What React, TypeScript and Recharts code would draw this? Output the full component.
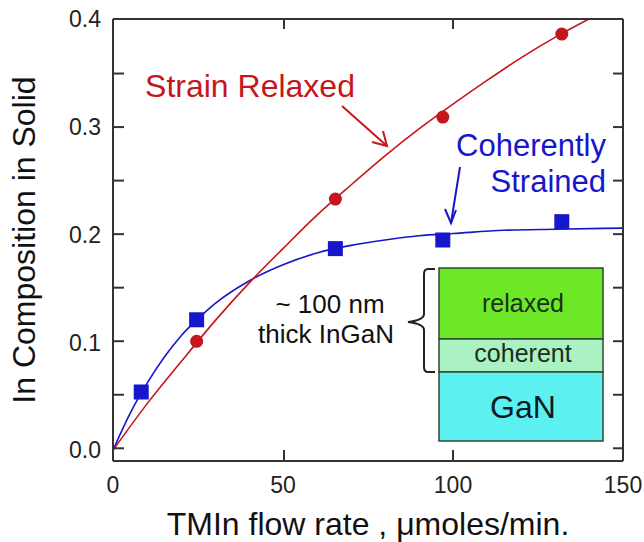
import React from 'react';
import {
  ComposedChart,
  Line,
  Scatter,
  XAxis,
  YAxis,
} from 'recharts';

// measured points
const relaxedX = [24.6, 65.4, 97, 132];
const relaxedY = [0.101, 0.233, 0.309, 0.386];
const strainedX = [8.3, 24.6, 65.4, 97, 132];
const strainedY = [0.054, 0.121, 0.187, 0.195, 0.212];

// fitted curves
const relaxedFitX = [0, 10, 20, 30, 40, 50, 60, 70, 80, 90, 100, 110, 120, 130, 140, 145];
const relaxedFitY = [0, 0.043, 0.082, 0.12, 0.155, 0.187, 0.218, 0.246, 0.273, 0.298, 0.321, 0.343, 0.364, 0.383, 0.4, 0.408];
const strainedFitX = [0, 5, 10, 15, 20, 25, 30, 40, 50, 60, 70, 80, 90, 100, 115, 130, 150];
const strainedFitY = [0, 0.034, 0.062, 0.086, 0.106, 0.122, 0.136, 0.157, 0.172, 0.183, 0.19, 0.195, 0.199, 0.201, 0.204, 0.205, 0.206];

const xTicks = [0, 50, 100, 150];
const yTicks = [0, 0.05, 0.1, 0.15, 0.2, 0.25, 0.3, 0.35, 0.4];
const xDomain = [0, 150];
const yDomain = [-0.01, 0.4];

const RED = '#c4161c';
const BLUE = '#1616cc';
const AXIS = '#333';
const FONT = '"Liberation Sans", Arial, sans-serif';

// layout
const W = 644;
const H = 542;
const MARGIN = { top: 19, right: 21, left: 0, bottom: 0 };
const Y_AXIS_W = 114;
const X_AXIS_H = 82;
const FRAME_L = MARGIN.left + Y_AXIS_W;
const FRAME_R = W - MARGIN.right;
const FRAME_T = MARGIN.top;
const FRAME_B = H - MARGIN.bottom - X_AXIS_H;
const PLOT_L = FRAME_L + 1;
const PLOT_R = FRAME_R - 1;
const PLOT_T = FRAME_T + 1;
const PLOT_B = FRAME_B - 1;
const TICK = 10;

const zip = (xs: number[], ys: number[]) => xs.map((x, i) => ({ x, y: ys[i] }));

const relaxedPts = zip(relaxedX, relaxedY);
const strainedPts = zip(strainedX, strainedY);
const relaxedFit = zip(relaxedFitX, relaxedFitY);
const strainedFit = zip(strainedFitX, strainedFitY);

const isMajor = (v: number) => Math.abs(v * 10 - Math.round(v * 10)) < 1e-6;

const Circle = (p: any) => <circle cx={p.cx} cy={p.cy} r={6.5} fill={RED} />;
const Square = (p: any) => (
  <rect x={p.cx - 7.5} y={p.cy - 7.5} width={15} height={15} fill={BLUE} />
);

const YTick = (p: any) => {
  const v = p.payload.value;
  if (!isMajor(v)) return <g />;
  return (
    <text x={p.x} y={p.y} dy="0.36em" textAnchor="end" fontFamily={FONT} fontSize={23} fill="#222">
      {v.toFixed(1)}
    </text>
  );
};

const XTick = (p: any) => (
  <text x={p.x} y={p.y} dy="0.71em" textAnchor="middle" fontFamily={FONT} fontSize={23} fill="#222">
    {p.payload.value}
  </text>
);

const YTitle = (p: any) => {
  const { y, height } = p.viewBox;
  const cy = y + height / 2;
  return (
    <text
      transform={`translate(35, ${cy}) rotate(-90)`}
      textAnchor="middle"
      fontFamily={FONT}
      fontSize={32}
      fill="#111"
    >
      In Composition in Solid
    </text>
  );
};

const XTitle = (p: any) => {
  const { x, y, width } = p.viewBox;
  return (
    <text
      x={x + width / 2}
      y={y + 74}
      textAnchor="middle"
      fontFamily={FONT}
      fontSize={32}
      fill="#111"
    >
      TMIn flow rate , μmoles/min.
    </text>
  );
};

// inward tick marks on all four sides of the frame
const tx = (v: number) => PLOT_L + ((v - xDomain[0]) / (xDomain[1] - xDomain[0])) * (PLOT_R - PLOT_L);
const ty = (v: number) => PLOT_T + ((yDomain[1] - v) / (yDomain[1] - yDomain[0])) * (PLOT_B - PLOT_T);

function FrameTicks() {
  const s = { stroke: AXIS, strokeWidth: 2 };
  return (
    <g>
      {yTicks
        .filter((v) => v < yDomain[1])
        .map((v) => (
          <g key={`y${v}`}>
            <line x1={FRAME_L} y1={ty(v)} x2={FRAME_L + TICK} y2={ty(v)} {...s} />
            <line x1={FRAME_R} y1={ty(v)} x2={FRAME_R - TICK} y2={ty(v)} {...s} />
          </g>
        ))}
      {xTicks
        .filter((v) => v > xDomain[0] && v < xDomain[1])
        .map((v) => (
          <g key={`x${v}`}>
            <line x1={tx(v)} y1={FRAME_B} x2={tx(v)} y2={FRAME_B - TICK} {...s} />
            <line x1={tx(v)} y1={FRAME_T} x2={tx(v)} y2={FRAME_T + TICK} {...s} />
          </g>
        ))}
    </g>
  );
}

function Annotations() {
  const txt = { fontFamily: FONT };
  return (
    <svg
      width={W}
      height={H}
      style={{ position: 'absolute', left: 0, top: 0, pointerEvents: 'none' }}
    >
      <FrameTicks />

      <text x={250} y={97} textAnchor="middle" fontSize={32} fill={RED} {...txt}>
        Strain Relaxed
      </text>
      <line x1={342} y1={106} x2={387} y2={146} stroke={RED} strokeWidth={2} />
      <polyline points="372,142 387,146 383,131" fill="none" stroke={RED} strokeWidth={2} />

      <text x={606} y={156} textAnchor="end" fontSize={31} fill={BLUE} {...txt}>
        Coherently
      </text>
      <text x={606} y={192} textAnchor="end" fontSize={31} fill={BLUE} {...txt}>
        Strained
      </text>
      <line x1={460} y1={167} x2={451} y2={223} stroke={BLUE} strokeWidth={2} />
      <polyline points="445,209 451,223 456,210" fill="none" stroke={BLUE} strokeWidth={2} />

      <text x={330} y={313} textAnchor="middle" fontSize={26} fill="#111" {...txt}>
        ~ 100 nm
      </text>
      <text x={326} y={343} textAnchor="middle" fontSize={26} fill="#111" {...txt}>
        thick InGaN
      </text>
      <path
        d="M435,269 L428,269 Q424,269 424,274 L424,314 Q424,320 408,322 Q424,324 424,330 L424,367 Q424,372 428,372 L435,372"
        fill="none"
        stroke="#222"
        strokeWidth={2}
      />

      <rect x={439} y={268} width={164} height={71} fill="#6ce826" stroke="#2c4a30" strokeWidth={1.5} />
      <rect x={439} y={339} width={164} height={33} fill="#aaf2c2" stroke="#2c4a30" strokeWidth={1.5} />
      <rect x={439} y={372} width={164} height={69} fill="#5cf0f0" stroke="#2c4a30" strokeWidth={1.5} />
      <text x={523} y={312} textAnchor="middle" fontSize={25} fill="#1c2e1c" {...txt}>
        relaxed
      </text>
      <text x={523} y={362} textAnchor="middle" fontSize={25} fill="#1c2e1c" {...txt}>
        coherent
      </text>
      <text x={523} y={418} textAnchor="middle" fontSize={32} fill="#0e1a22" {...txt}>
        GaN
      </text>
    </svg>
  );
}

export default function App() {
  const axisLine = { stroke: AXIS, strokeWidth: 2 };
  const frame = {
    type: 'number' as const,
    allowDataOverflow: true,
    mirror: true,
    axisLine,
    tickLine: false,
    tick: false,
  };
  return (
    <div style={{ position: 'absolute', left: 0, top: 0, width: W, height: H, background: '#fff' }}>
      <ComposedChart width={W} height={H} margin={MARGIN}>
        {/* frame lines */}
        <XAxis xAxisId="bt" dataKey="x" domain={xDomain} ticks={xTicks} height={1} {...frame} />
        <XAxis xAxisId="top" dataKey="x" orientation="top" domain={xDomain} ticks={xTicks} height={1} {...frame} />
        <YAxis yAxisId="lt" dataKey="y" domain={yDomain} ticks={yTicks} width={1} {...frame} />
        <YAxis yAxisId="right" dataKey="y" orientation="right" domain={yDomain} ticks={yTicks} width={1} {...frame} />
        {/* labelled axes */}
        <XAxis
          dataKey="x"
          type="number"
          domain={xDomain}
          allowDataOverflow
          ticks={xTicks}
          height={X_AXIS_H - 1}
          axisLine={false}
          tickLine={false}
          tickSize={0}
          tickMargin={16}
          tick={(p: any) => <XTick {...p} />}
          interval={0}
          label={<XTitle />}
        />
        <YAxis
          dataKey="y"
          type="number"
          domain={yDomain}
          allowDataOverflow
          ticks={yTicks}
          width={Y_AXIS_W - 1}
          axisLine={false}
          tickLine={false}
          tickSize={0}
          tickMargin={12}
          tick={(p: any) => <YTick {...p} />}
          interval={0}
          label={<YTitle />}
        />
        <Line
          data={strainedFit}
          dataKey="y"
          type="monotone"
          stroke={BLUE}
          strokeWidth={1.6}
          dot={false}
          isAnimationActive={false}
        />
        <Line
          data={relaxedFit}
          dataKey="y"
          xAxisId="top"
          yAxisId="right"
          type="monotone"
          stroke={RED}
          strokeWidth={1.6}
          dot={false}
          isAnimationActive={false}
        />
        <Scatter
          data={relaxedPts}
          dataKey="y"
          xAxisId="bt"
          yAxisId="lt"
          shape={Circle}
          isAnimationActive={false}
        />
        <Scatter data={strainedPts} dataKey="y" shape={Square} isAnimationActive={false} />
      </ComposedChart>
      <Annotations />
    </div>
  );
}
